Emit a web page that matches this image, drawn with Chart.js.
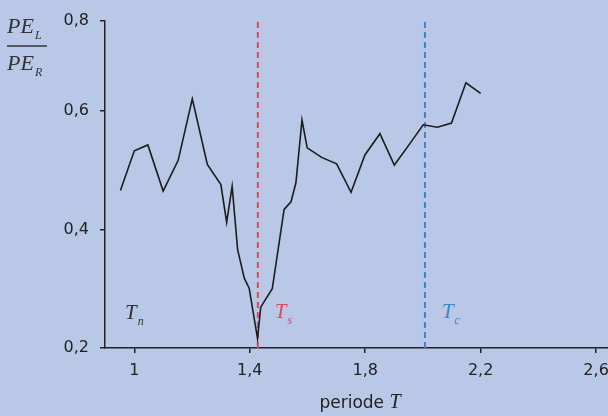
<!DOCTYPE html>
<html>
<head>
<meta charset="utf-8">
<script src="https://cdn.jsdelivr.net/npm/chart.js@4"></script>
<style>
  html, body { margin: 0; padding: 0; background: #b9c8e6; overflow: hidden; }
  #wrap { width: 640px; height: 416px; }
</style>
</head>
<body>
<div id="wrap"><canvas id="c" width="640" height="416"></canvas></div>
<script>
// period T and ratio PE_L / PE_R
const PERIODS = [0.952, 1.0, 1.047, 1.10, 1.152, 1.201, 1.253, 1.30, 1.32, 1.339, 1.358, 1.381, 1.398, 1.427, 1.438, 1.478, 1.519, 1.543, 1.56, 1.581, 1.599, 1.649, 1.701, 1.751, 1.799, 1.851, 1.901, 1.956, 2.001, 2.05, 2.099, 2.149, 2.20];
const RATIOS  = [0.466, 0.533, 0.543, 0.465, 0.517, 0.621, 0.510, 0.476, 0.412, 0.473, 0.366, 0.318, 0.301, 0.216, 0.269, 0.300, 0.434, 0.447, 0.479, 0.585, 0.538, 0.522, 0.511, 0.463, 0.526, 0.562, 0.509, 0.546, 0.577, 0.573, 0.580, 0.648, 0.630];

const T_S = 1.428;
const T_C = 2.007;

const X_TICKS = [1, 1.4, 1.8, 2.2, 2.6];
const X_TICK_LABELS = ["1", "1,4", "1,8", "2,2", "2,6"];
const Y_TICKS = [0.2, 0.4, 0.6, 0.753];
const Y_TICK_LABELS = ["0,2", "0,4", "0,6", "0,8"];

const INK = "#222222";
const RED = "#e2465a";
const BLUE = "#3a86cc";

function drawSub(ctx, main, sub, x, base, size, color) {
  ctx.fillStyle = color;
  ctx.font = `italic ${size}px "Liberation Serif"`;
  ctx.textAlign = "left";
  ctx.textBaseline = "alphabetic";
  ctx.fillText(main, x, base);
  const w = ctx.measureText(main).width;
  ctx.font = `italic ${Math.round(size * 0.55)}px "Liberation Serif"`;
  ctx.fillText(sub, x + w + 1, base + 6);
}

const labelsPlugin = {
  id: "labels",
  afterDraw(chart) {
    const ctx = chart.ctx;
    const xs = chart.scales.x;
    ctx.save();
    // y title: fraction PE_L / PE_R
    drawSub(ctx, "PE", "L", 7, 33, 22, "#333");
    ctx.strokeStyle = "#333";
    ctx.lineWidth = 1.5;
    ctx.beginPath();
    ctx.moveTo(7, 46);
    ctx.lineTo(47, 46);
    ctx.stroke();
    drawSub(ctx, "PE", "R", 7, 70, 22, "#333");

    // markers
    drawSub(ctx, "T", "n", 125, 319, 21, "#333");
    drawSub(ctx, "T", "s", xs.getPixelForValue(T_S) + 17, 318, 21, RED);
    drawSub(ctx, "T", "c", xs.getPixelForValue(T_C) + 17, 318, 21, BLUE);

    // x title
    ctx.font = '17px "DejaVu Sans"';
    const w1 = ctx.measureText("periode ").width;
    ctx.font = 'italic 20px "Liberation Serif"';
    const w2 = ctx.measureText("T").width;
    let x0 = 360 - (w1 + w2) / 2;
    ctx.fillStyle = INK;
    ctx.textAlign = "left";
    ctx.textBaseline = "alphabetic";
    ctx.font = '17px "DejaVu Sans"';
    ctx.fillText("periode ", x0, 408);
    ctx.font = 'italic 20px "Liberation Serif"';
    ctx.fillText("T", x0 + w1, 408);
    ctx.restore();
  }
};

new Chart(document.getElementById("c"), {
  type: "scatter",
  data: {
    datasets: [
      {
        data: PERIODS.map((t, i) => ({ x: t, y: RATIOS[i] })),
        showLine: true,
        borderColor: "#1c1c1c",
        borderWidth: 1.6,
        pointRadius: 0,
        tension: 0
      },
      {
        data: [{ x: T_S, y: Y_TICKS[0] }, { x: T_S, y: Y_TICKS[Y_TICKS.length - 1] }],
        showLine: true,
        borderColor: RED,
        borderWidth: 2,
        borderDash: [6, 4],
        pointRadius: 0
      },
      {
        data: [{ x: T_C, y: Y_TICKS[0] }, { x: T_C, y: Y_TICKS[Y_TICKS.length - 1] }],
        showLine: true,
        borderColor: BLUE,
        borderWidth: 2,
        borderDash: [6, 4],
        pointRadius: 0
      }
    ]
  },
  options: {
    responsive: false,
    animation: false,
    events: [],
    layout: { padding: { top: 16, right: 11, left: 0, bottom: 0 } },
    plugins: { legend: { display: false }, tooltip: { enabled: false } },
    scales: {
      x: {
        type: "linear",
        min: 0.8985,
        max: 2.714,
        afterBuildTicks: s => { s.ticks = X_TICKS.map(v => ({ value: v })); },
        afterFit: s => { s.height = 68; },
        ticks: {
          callback: v => X_TICK_LABELS[X_TICKS.indexOf(v)],
          color: INK,
          font: { family: "DejaVu Sans", size: 16 },
          padding: 8,
          maxRotation: 0
        },
        grid: { drawOnChartArea: false, tickLength: 5, color: INK, lineWidth: 1.5 },
        border: { color: INK, width: 1.5 }
      },
      y: {
        min: Y_TICKS[0],
        max: Y_TICKS[Y_TICKS.length - 1],
        afterBuildTicks: s => { s.ticks = Y_TICKS.map(v => ({ value: v })); },
        afterFit: s => { s.width = 105; },
        ticks: {
          callback: v => Y_TICK_LABELS[Y_TICKS.indexOf(v)],
          color: INK,
          font: { family: "DejaVu Sans", size: 16 },
          padding: 11
        },
        grid: { drawOnChartArea: false, tickLength: 5, color: INK, lineWidth: 1.5 },
        border: { color: INK, width: 1.5 }
      }
    }
  },
  plugins: [labelsPlugin]
});
</script>
</body>
</html>
